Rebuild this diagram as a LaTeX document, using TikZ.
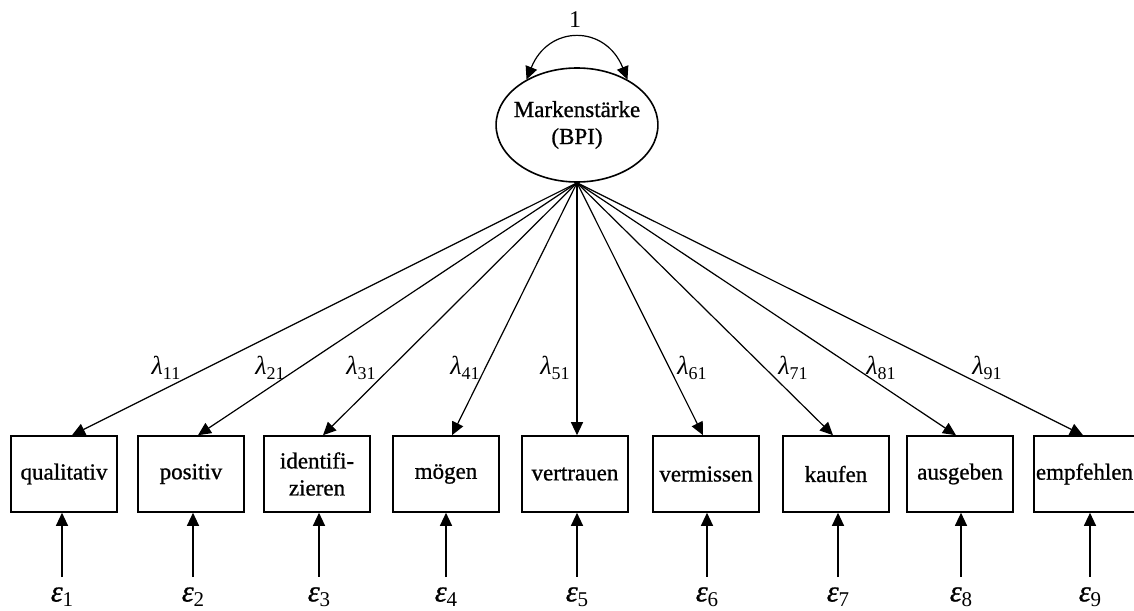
\documentclass[tikz,border=0pt]{standalone}
\usepackage{fontspec}
\setmainfont{Liberation Serif}
\newfontfamily\heavy{Liberation Serif}[FakeBold=0.9]
\usetikzlibrary{arrows.meta,shapes.geometric}
\newcommand\lamsub[1]{{\fontsize{13}{14}\selectfont\textit{λ}}\raisebox{-0.5ex}{\fontsize{9}{10}\selectfont #1}}
\newcommand\epssub[1]{{\heavy\fontsize{15}{16}\selectfont\textit{ε}}\raisebox{-0.55ex}{\fontsize{10.5}{11}\selectfont #1}}
\begin{document}
\begin{tikzpicture}[x=0.5pt,y=-0.5pt,
  font=\heavy\fontsize{11.5}{13.5}\selectfont,
  obs/.style={draw, line width=0.8pt, minimum width=53pt, minimum height=38pt, inner sep=1pt, align=center},
  arr/.style={line width=0.6pt, -{Triangle[length=6.5pt,width=6pt]}},
  lbl/.style={inner sep=0pt, font=\rmfamily},
  epsn/.style={inner sep=0pt, font=\rmfamily}]
\useasboundingbox (0,0) rectangle (1134,610);
\clip (0,0) rectangle (1134,610);

\node[draw, ellipse, line width=0.8pt, minimum width=80pt, minimum height=57pt,
      inner xsep=-3pt, inner ysep=0pt, align=center] (lat) at (577,125) {Markenstärke\\(BPI)};
\node[font=\rmfamily\fontsize{12}{13}\selectfont] (one) at (575,20) {1};
\draw[line width=0.6pt, {Triangle[length=6.5pt,width=6pt]}-{Triangle[length=6.5pt,width=6pt]}]
  (lat.138) .. controls +(22,-55) and +(-22,-55) .. (lat.42);

\node[obs] (b1) at (64,474) {qualitativ};
\node[obs] (b2) at (191,474) {positiv};
\node[obs] (b3) at (317,474) {identifi-\\zieren};
\node[obs] (b4) at (446,474) {mögen};
\node[obs] (b5) at (575,474) {vertrauen};
\node[obs] (b6) at (706,474) {vermissen};
\node[obs] (b7) at (836,474) {kaufen};
\node[obs] (b8) at (960,474) {ausgeben};
\node[obs] (b9) at (1089,474) {empfehlen\hspace*{4.5pt}};

\draw[arr] (lat.south) -- ([xshift=4pt]b1.north);
\draw[arr] (lat.south) -- ([xshift=3.5pt]b2.north);
\draw[arr] (lat.south) -- ([xshift=3pt]b3.north);
\draw[arr] (lat.south) -- ([xshift=3pt]b4.north);
\draw[arr] (lat.south) -- ([xshift=1pt]b5.north);
\draw[arr] (lat.south) -- ([xshift=-1.5pt]b6.north);
\draw[arr] (lat.south) -- ([xshift=-1.5pt]b7.north);
\draw[arr] (lat.south) -- ([xshift=-2pt]b8.north);
\draw[arr] (lat.south) -- ([xshift=-3pt]b9.north);

\node[lbl] (l1) at (166,368) {\lamsub{11}};
\node[lbl] (l2) at (270,368) {\lamsub{21}};
\node[lbl] (l3) at (361,368) {\lamsub{31}};
\node[lbl] (l4) at (465,368) {\lamsub{41}};
\node[lbl] (l5) at (555,368) {\lamsub{51}};
\node[lbl] (l6) at (692,368) {\lamsub{61}};
\node[lbl] (l7) at (793,368) {\lamsub{71}};
\node[lbl] (l8) at (881,368) {\lamsub{81}};
\node[lbl] (l9) at (987,368) {\lamsub{91}};

\node[epsn] (e1) at (62,597) {\epssub{1}};
\node[epsn] (e2) at (193,597) {\epssub{2}};
\node[epsn] (e3) at (319,597) {\epssub{3}};
\node[epsn] (e4) at (446,597) {\epssub{4}};
\node[epsn] (e5) at (577,597) {\epssub{5}};
\node[epsn] (e6) at (707,597) {\epssub{6}};
\node[epsn] (e7) at (838,597) {\epssub{7}};
\node[epsn] (e8) at (961,597) {\epssub{8}};
\node[epsn] (e9) at (1090,597) {\epssub{9}};

\foreach \i in {1,...,9}{
  \draw[arr] ([yshift=5pt]e\i.north) -- (e\i.north |- b\i.south);
}
\end{tikzpicture}
\end{document}
